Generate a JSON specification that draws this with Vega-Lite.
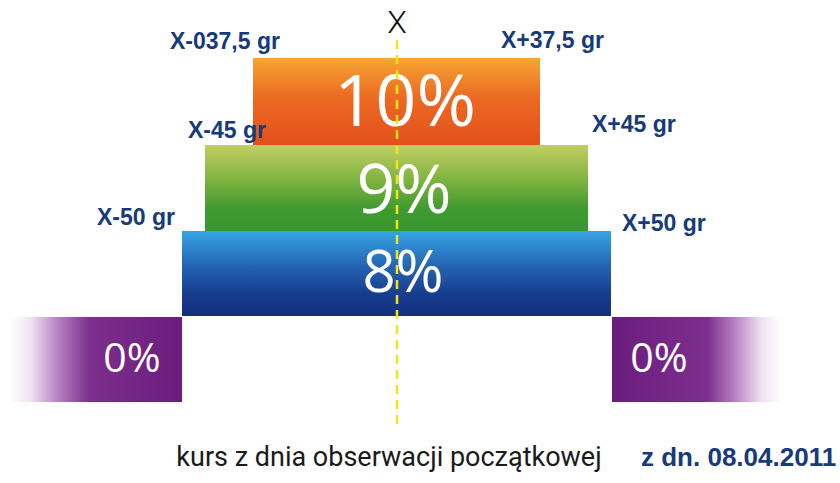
{
  "$schema": "https://vega.github.io/schema/vega-lite/v6.json",
  "width": 840,
  "height": 483,
  "autosize": {"type": "fit", "contains": "padding"},
  "padding": 0,
  "background": "white",
  "config": {"view": {"stroke": null}},
  "datasets": {
    "bars": [
      {"tier": "10%", "x0": -144, "x1": 143, "y0": 58, "y1": 145},
      {"tier": "9%", "x0": -192, "x1": 191, "y0": 145, "y1": 231},
      {"tier": "8%", "x0": -215, "x1": 214, "y0": 231, "y1": 316},
      {"tier": "0% left", "x0": -387, "x1": -215, "y0": 317, "y1": 402},
      {"tier": "0% right", "x0": 215, "x1": 385, "y0": 317, "y1": 402}
    ],
    "center": [{"x": 0, "y0": 40, "y1": 428}],
    "percents": [
      {"label": "10%", "x": 8, "y": 126},
      {"label": "9%", "x": 7, "y": 213},
      {"label": "8%", "x": 6, "y": 292},
      {"label": "0%", "x": -265, "y": 372},
      {"label": "0%", "x": 262, "y": 372}
    ],
    "bounds": [
      {"text": "X-037,5 gr", "x": -227, "y": 49},
      {"text": "X+37,5 gr", "x": 104, "y": 48},
      {"text": "X-45 gr", "x": -209, "y": 138},
      {"text": "X+45 gr", "x": 195, "y": 132},
      {"text": "X-50 gr", "x": -300, "y": 225},
      {"text": "X+50 gr", "x": 225, "y": 231}
    ],
    "xmark": [{"text": "X", "x": 0, "y": 33}],
    "caption": [{"text": "kurs z dnia obserwacji początkowej", "x": -8, "y": 466}],
    "date": [{"text": "z dn. 08.04.2011", "x": 244, "y": 466}]
  },
  "layer": [
    {
      "data": {"name": "bars"},
      "transform": [{"filter": "datum.tier === '10%'"}],
      "mark": {"type": "rect", "color": {"gradient": "linear", "x1": 0, "y1": 0, "x2": 0, "y2": 1, "stops": [
        {"offset": 0, "color": "#f6a534"}, {"offset": 0.45, "color": "#ec6a22"}, {"offset": 1, "color": "#e4501c"}]}},
      "encoding": {
        "x": {"field": "x0", "type": "quantitative", "scale": {"domain": [-397, 443], "nice": false, "zero": false}, "axis": null},
        "x2": {"field": "x1"},
        "y": {"field": "y0", "type": "quantitative", "scale": {"domain": [0, 483], "reverse": true, "nice": false, "zero": false}, "axis": null},
        "y2": {"field": "y1"}
      }
    },
    {
      "data": {"name": "bars"},
      "transform": [{"filter": "datum.tier === '9%'"}],
      "mark": {"type": "rect", "color": {"gradient": "linear", "x1": 0, "y1": 0, "x2": 0, "y2": 1, "stops": [
        {"offset": 0, "color": "#c3ce63"}, {"offset": 0.4, "color": "#80b340"}, {"offset": 0.75, "color": "#3e9a31"}, {"offset": 1, "color": "#3a972e"}]}},
      "encoding": {
        "x": {"field": "x0", "type": "quantitative", "scale": {"domain": [-397, 443], "nice": false, "zero": false}, "axis": null},
        "x2": {"field": "x1"},
        "y": {"field": "y0", "type": "quantitative", "scale": {"domain": [0, 483], "reverse": true, "nice": false, "zero": false}, "axis": null},
        "y2": {"field": "y1"}
      }
    },
    {
      "data": {"name": "bars"},
      "transform": [{"filter": "datum.tier === '8%'"}],
      "mark": {"type": "rect", "color": {"gradient": "linear", "x1": 0, "y1": 0, "x2": 0, "y2": 1, "stops": [
        {"offset": 0, "color": "#36a5e3"}, {"offset": 0.4, "color": "#2566b5"}, {"offset": 0.75, "color": "#173c8c"}, {"offset": 1, "color": "#14307f"}]}},
      "encoding": {
        "x": {"field": "x0", "type": "quantitative", "scale": {"domain": [-397, 443], "nice": false, "zero": false}, "axis": null},
        "x2": {"field": "x1"},
        "y": {"field": "y0", "type": "quantitative", "scale": {"domain": [0, 483], "reverse": true, "nice": false, "zero": false}, "axis": null},
        "y2": {"field": "y1"}
      }
    },
    {
      "data": {"name": "bars"},
      "transform": [{"filter": "datum.tier === '0% left'"}],
      "mark": {"type": "rect", "color": {"gradient": "linear", "x1": 0, "y1": 0, "x2": 1, "y2": 0, "stops": [
        {"offset": 0, "color": "#ffffff"}, {"offset": 0.12, "color": "#efe2f2"}, {"offset": 0.28, "color": "#b680c2"}, {"offset": 0.46, "color": "#7d2f8d"}, {"offset": 1, "color": "#6b1d7e"}]}},
      "encoding": {
        "x": {"field": "x0", "type": "quantitative", "scale": {"domain": [-397, 443], "nice": false, "zero": false}, "axis": null},
        "x2": {"field": "x1"},
        "y": {"field": "y0", "type": "quantitative", "scale": {"domain": [0, 483], "reverse": true, "nice": false, "zero": false}, "axis": null},
        "y2": {"field": "y1"}
      }
    },
    {
      "data": {"name": "bars"},
      "transform": [{"filter": "datum.tier === '0% right'"}],
      "mark": {"type": "rect", "color": {"gradient": "linear", "x1": 1, "y1": 0, "x2": 0, "y2": 0, "stops": [
        {"offset": 0, "color": "#ffffff"}, {"offset": 0.12, "color": "#efe2f2"}, {"offset": 0.28, "color": "#b680c2"}, {"offset": 0.44, "color": "#7d2f8d"}, {"offset": 1, "color": "#6b1d7e"}]}},
      "encoding": {
        "x": {"field": "x0", "type": "quantitative", "scale": {"domain": [-397, 443], "nice": false, "zero": false}, "axis": null},
        "x2": {"field": "x1"},
        "y": {"field": "y0", "type": "quantitative", "scale": {"domain": [0, 483], "reverse": true, "nice": false, "zero": false}, "axis": null},
        "y2": {"field": "y1"}
      }
    },
    {
      "data": {"name": "percents"},
      "mark": {"type": "text", "font": "Open Sans", "fontWeight": 500, "color": "white", "align": "center", "baseline": "alphabetic"},
      "encoding": {
        "x": {"field": "x", "type": "quantitative", "scale": {"domain": [-397, 443], "nice": false, "zero": false}, "axis": null},
        "y": {"field": "y", "type": "quantitative", "scale": {"domain": [0, 483], "reverse": true, "nice": false, "zero": false}, "axis": null},
        "text": {"field": "label"},
        "size": {"field": "label", "type": "nominal", "scale": {"type": "ordinal", "domain": ["10%", "9%", "8%", "0%"], "range": [72, 68, 58, 41]}, "legend": null}
      }
    },
    {
      "data": {"name": "center"},
      "mark": {"type": "rule", "color": "#f2e51a", "strokeWidth": 2.5, "strokeDash": [9, 6]},
      "encoding": {
        "x": {"field": "x", "type": "quantitative", "scale": {"domain": [-397, 443], "nice": false, "zero": false}, "axis": null},
        "y": {"field": "y0", "type": "quantitative", "scale": {"domain": [0, 483], "reverse": true, "nice": false, "zero": false}, "axis": null},
        "y2": {"field": "y1"}
      }
    },
    {
      "data": {"name": "bounds"},
      "mark": {"type": "text", "font": "Liberation Sans", "fontWeight": "bold", "fontSize": 23, "color": "#173a7a", "align": "left", "baseline": "alphabetic"},
      "encoding": {
        "x": {"field": "x", "type": "quantitative", "scale": {"domain": [-397, 443], "nice": false, "zero": false}, "axis": null},
        "y": {"field": "y", "type": "quantitative", "scale": {"domain": [0, 483], "reverse": true, "nice": false, "zero": false}, "axis": null},
        "text": {"field": "text"}
      }
    },
    {
      "data": {"name": "xmark"},
      "mark": {"type": "text", "font": "Roboto", "fontWeight": 300, "fontSize": 32, "color": "#111111", "align": "center", "baseline": "alphabetic"},
      "encoding": {
        "x": {"field": "x", "type": "quantitative", "scale": {"domain": [-397, 443], "nice": false, "zero": false}, "axis": null},
        "y": {"field": "y", "type": "quantitative", "scale": {"domain": [0, 483], "reverse": true, "nice": false, "zero": false}, "axis": null},
        "text": {"field": "text"}
      }
    },
    {
      "data": {"name": "caption"},
      "mark": {"type": "text", "font": "Roboto", "fontSize": 27, "color": "#1a1a1a", "align": "center", "baseline": "alphabetic"},
      "encoding": {
        "x": {"field": "x", "type": "quantitative", "scale": {"domain": [-397, 443], "nice": false, "zero": false}, "axis": null},
        "y": {"field": "y", "type": "quantitative", "scale": {"domain": [0, 483], "reverse": true, "nice": false, "zero": false}, "axis": null},
        "text": {"field": "text"}
      }
    },
    {
      "data": {"name": "date"},
      "mark": {"type": "text", "font": "Liberation Sans", "fontWeight": "bold", "fontSize": 26, "color": "#173a7a", "align": "left", "baseline": "alphabetic"},
      "encoding": {
        "x": {"field": "x", "type": "quantitative", "scale": {"domain": [-397, 443], "nice": false, "zero": false}, "axis": null},
        "y": {"field": "y", "type": "quantitative", "scale": {"domain": [0, 483], "reverse": true, "nice": false, "zero": false}, "axis": null},
        "text": {"field": "text"}
      }
    }
  ]
}
